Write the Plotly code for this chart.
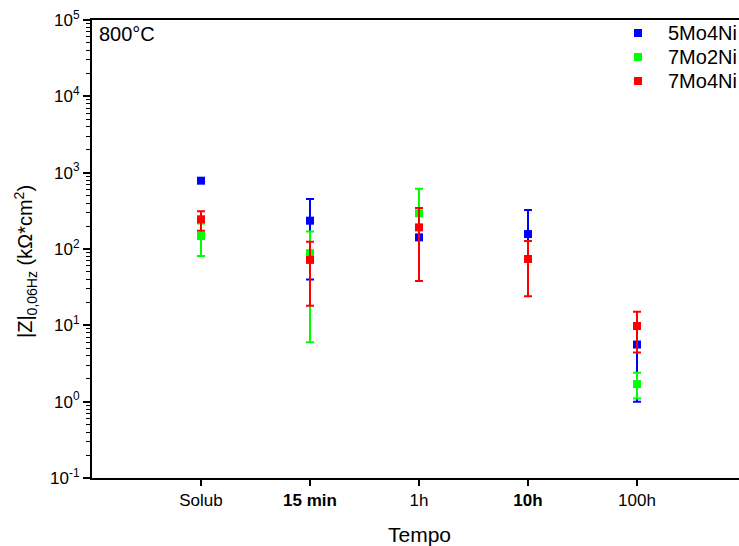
import plotly.graph_objects as go

categories = ["Solub", "<b>15 min</b>", "1h", "<b>10h</b>", "100h"]
x_pos = [1, 2, 3, 4, 5]

blue_y = [785, 235, 142, 157, 5.6]
blue_plus = [60, 217, 166, 167, 4.7]
blue_minus = [40, 195, 104, 30, 4.6]

green_y = [148, 88, 293, None, 1.70]
green_plus = [67, 81, 324, 0, 0.7]
green_minus = [67, 82, 255, 0, 0.6]

red_y = [245, 72, 192, 74, 9.8]
red_plus = [67, 52, 152, 53, 5.3]
red_minus = [71, 54, 154, 50, 5.4]

series = [
    ("5Mo4Ni", blue_y, blue_plus, blue_minus, "#0000FF"),
    ("7Mo2Ni", green_y, green_plus, green_minus, "#00FF00"),
    ("7Mo4Ni", red_y, red_plus, red_minus, "#FF0000"),
]

y_tick_exp = [-1, 0, 1, 2, 3, 4, 5]

# plot-area geometry in pixels
L, T, W, H = 92, 20, 647, 458


def px(xp):
    return (xp - L) / W


def py(yp):
    return (T + H - yp) / H


fig = go.Figure()
for name, ys, ep, em, col in series:
    fig.add_trace(go.Scatter(
        x=x_pos, y=ys, name=name, mode="markers", showlegend=False,
        marker=dict(symbol="square", size=8, color=col, line=dict(width=0)),
        error_y=dict(type="data", symmetric=False, array=ep, arrayminus=em,
                     color=col, thickness=2, width=4),
    ))

fig.update_layout(
    width=739, height=546,
    margin=dict(l=L, r=739 - L - W, t=T, b=546 - T - H),
    paper_bgcolor="white", plot_bgcolor="white",
    font=dict(family="Liberation Sans, Arial, sans-serif", color="black"),
    showlegend=False,
)

fig.update_xaxes(
    range=[0, 647 / 109], tickvals=x_pos, ticktext=categories,
    showline=True, linecolor="black", linewidth=2, mirror=True,
    ticks="outside", ticklen=6, tickwidth=2, tickcolor="black",
    showgrid=False, zeroline=False, tickfont=dict(size=17),
)
fig.update_yaxes(
    type="log", range=[-1, 5],
    tickvals=[10 ** e for e in y_tick_exp],
    ticktext=[f"10<sup>{e}</sup>" for e in y_tick_exp],
    showline=True, linecolor="black", linewidth=2, mirror=False,
    ticks="outside", ticklen=7, tickwidth=2, tickcolor="black",
    minor=dict(ticks="outside", ticklen=4, tickwidth=1, tickcolor="black", dtick="D1", showgrid=False),
    showgrid=False, zeroline=False, tickfont=dict(size=17),
)

# legend (manual, to match the tighter line spacing)
for i, (name, ys, ep, em, col) in enumerate(series):
    yc = 33 + 24 * i
    fig.add_shape(type="rect", xref="paper", yref="paper",
                  x0=px(634), x1=px(642), y0=py(yc + 4), y1=py(yc - 4),
                  fillcolor=col, line=dict(width=0))
    fig.add_annotation(text=name, xref="paper", yref="paper", x=px(666), y=py(yc),
                       xanchor="left", yanchor="middle", showarrow=False, font=dict(size=20))

fig.add_annotation(text="800°C", xref="paper", yref="paper", x=px(97), y=py(34),
                   xanchor="left", yanchor="middle", showarrow=False, font=dict(size=20))
fig.add_annotation(text="Tempo", xref="paper", yref="paper", x=px(419), y=py(534),
                   xanchor="center", yanchor="middle", showarrow=False, font=dict(size=21))
fig.add_annotation(text="|Z|<sub>0,06Hz</sub> (kΩ*cm<sup>2</sup>)", xref="paper", yref="paper",
                   x=px(25), y=py(262), textangle=-90,
                   xanchor="center", yanchor="middle", showarrow=False, font=dict(size=20))

fig.write_html("out.html")
